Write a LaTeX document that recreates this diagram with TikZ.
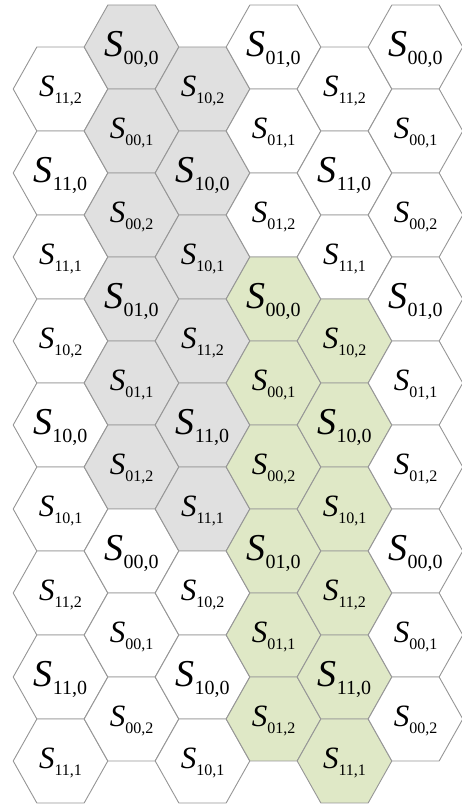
\documentclass[tikz,border=0pt]{standalone}
\usepackage{fontspec}
\setmainfont{Liberation Serif}
\definecolor{hexline}{HTML}{969696}
\definecolor{hexgrey}{HTML}{E0E0E0}
\definecolor{hexgreen}{HTML}{DFE8C6}
% labels: big S for the ",0" cells, smaller S for the others
\newcommand{\bigS}[1]{{\fontsize{38}{40}\selectfont\itshape S}\raisebox{-8pt}{\fontsize{20}{21}\selectfont #1}}
\newcommand{\smallS}[1]{{\fontsize{31}{33}\selectfont\itshape S}\raisebox{-7pt}{\fontsize{16}{17}\selectfont #1}}

\begin{document}
\begin{tikzpicture}[x=1pt,y=1pt]
\tikzstyle{cell} = [draw=hexline, line width=0.9pt, line join=round]
\tikzstyle{whitecell} = [cell, fill=white]
\tikzstyle{greycell} = [cell, fill=hexgrey]
\tikzstyle{greencell} = [cell, fill=hexgreen]
\tikzstyle{label} = [inner sep=0pt, anchor=center]
\useasboundingbox (0,0) rectangle (462,807);
% columns: index / first prefix / middle prefix
\foreach \c/\pa/\pb in {0/11/10, 1/00/01, 2/10/11, 3/01/00, 4/11/10, 5/00/01}{
  \foreach \r in {0,...,8}{
    \pgfmathsetmacro{\x}{60.5+71*\c}
    \pgfmathsetmacro{\y}{807-47-84*\r-42*(1-mod(\c,2))}
    \pgfmathtruncatemacro{\kind}{and(or(\c==1,\c==2),\r<6) ? 1 : (and(or(\c==3,\c==4),\r>2) ? 2 : 0)}
    \pgfmathtruncatemacro{\blk}{and(\r>2,\r<6)}
    \pgfmathtruncatemacro{\last}{mod(\r+2*(1-mod(\c,2)),3)}
    \ifcase\kind \def\cellstyle{whitecell}\or \def\cellstyle{greycell}\or \def\cellstyle{greencell}\fi
    \ifnum\blk=1 \let\pre\pb \else \let\pre\pa \fi
    \draw[\cellstyle, shift={(\x,\y)}] (-47.3,0) -- (-23.65,42) -- (23.65,42)
      -- (47.3,0) -- (23.65,-42) -- (-23.65,-42) -- cycle;
    \node[label] (s\c-\r) at (\x,\y-2) {\ifnum\last=0 \bigS{\pre,\last}\else\smallS{\pre,\last}\fi};
  }
}
\end{tikzpicture}
\end{document}
